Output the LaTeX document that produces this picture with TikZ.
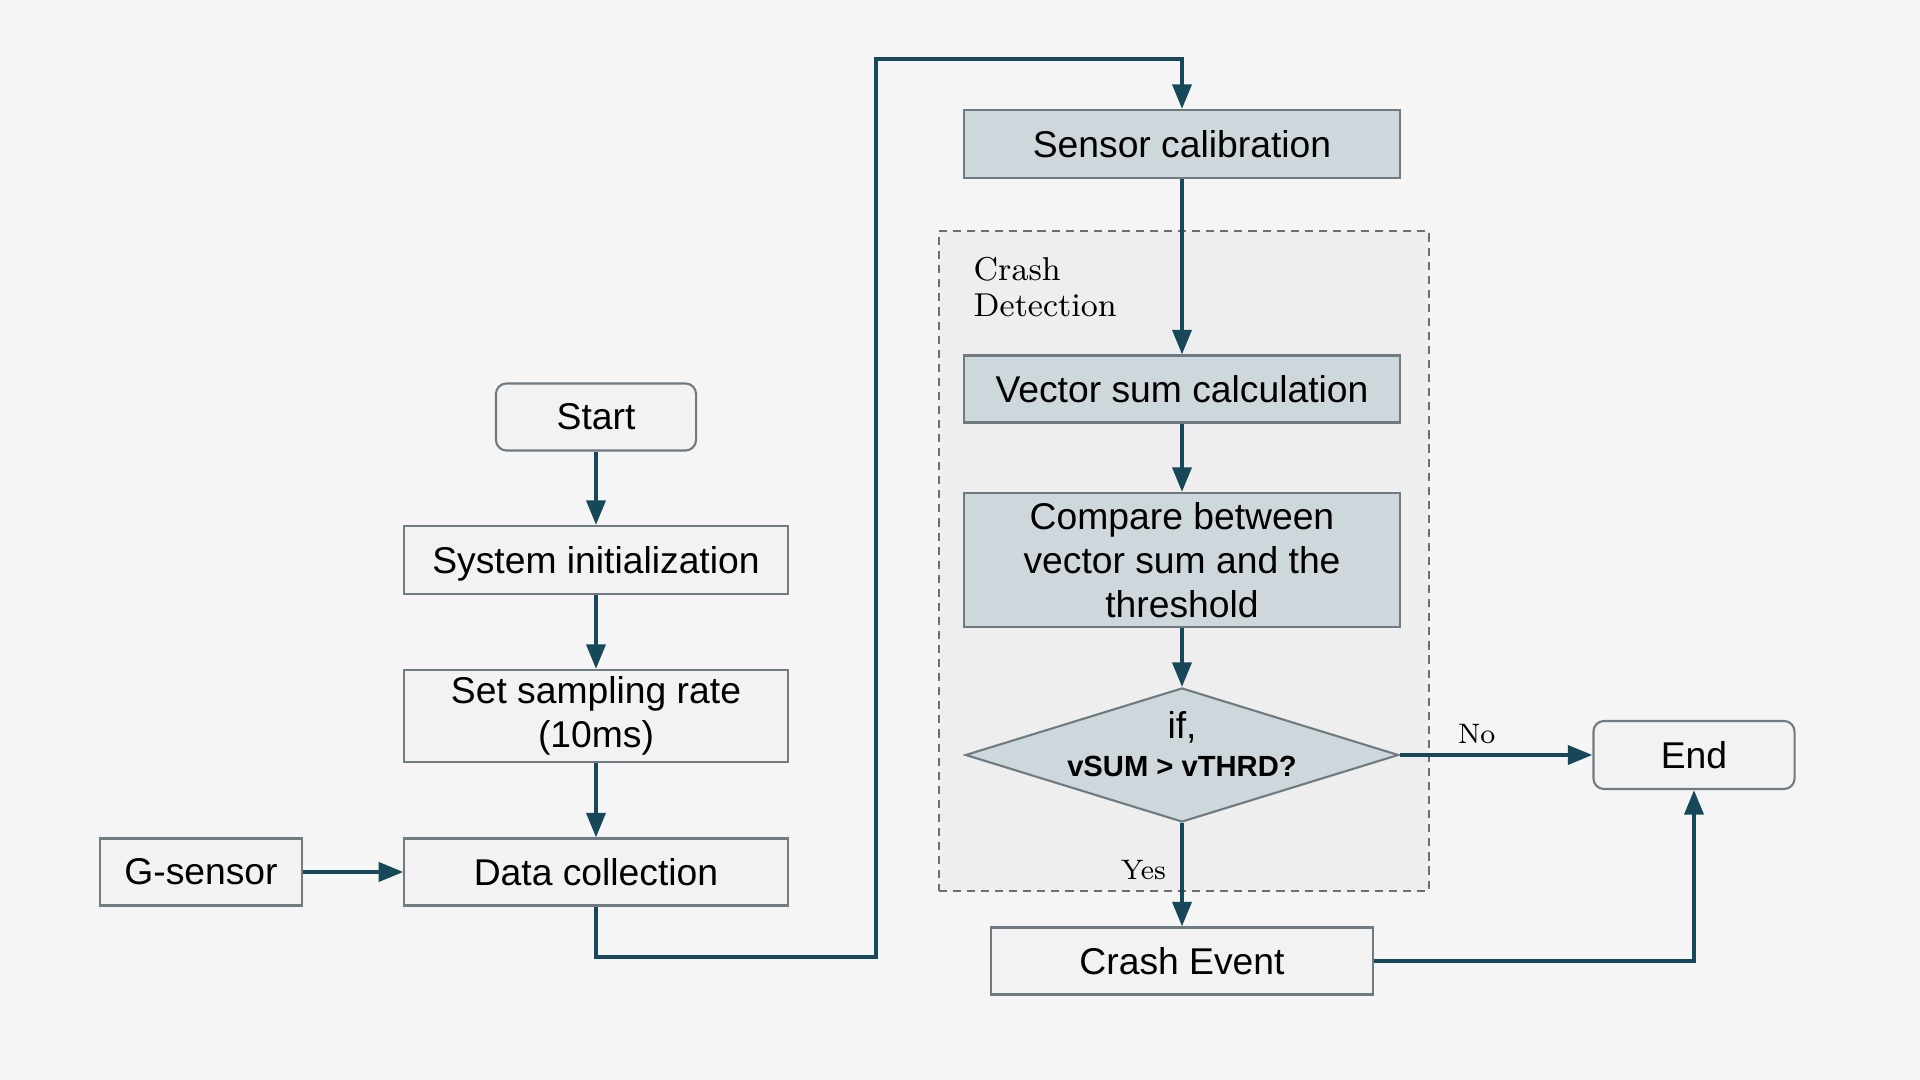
\documentclass[tikz,border=0pt]{standalone}
\usepackage{fontspec}
\newfontfamily\boxfont{Liberation Sans}
\usetikzlibrary{shapes.geometric,arrows.meta}
\definecolor{pagebg}{HTML}{F5F5F5}
\definecolor{boxfill}{HTML}{F2F2F2}
\definecolor{stepfill}{HTML}{CED7DB}
\definecolor{boxline}{HTML}{6F7B80}
\definecolor{zonefill}{HTML}{EEEEEE}
\definecolor{zoneline}{HTML}{6E6E6E}
\definecolor{flowcol}{HTML}{17485A}
\begin{document}
\begin{tikzpicture}[x=0.01cm, y=-0.01cm,
  box/.style={draw=boxline, fill=boxfill, line width=0.6pt, inner sep=0pt,
    align=center, font=\boxfont\fontsize{10.6}{12.5}\selectfont},
  roundbox/.style={box, rounded corners=3pt},
  calcbox/.style={box, fill=stepfill},
  flow/.style={draw=flowcol, line width=1.1pt, -{Triangle[length=7pt, width=5.4pt]}},
  note/.style={font=\fontsize{8}{9}\selectfont, inner sep=1pt}]
  \useasboundingbox[fill=pagebg] (0,0) rectangle (1920,1080);

  % crash detection zone
  \node[draw=zoneline, fill=zonefill, dash pattern=on 2.3pt off 1.7pt, line width=0.6pt,
    minimum width=4.9cm, minimum height=6.59cm, inner sep=0pt] (zone) at (1184,561) {};
  \node[anchor=west, align=left, inner sep=0pt, font=\fontsize{9.4}{10.2}\selectfont]
    (zonelabel) at (973,287) {Crash\\Detection};

  % left column
  \node[roundbox, minimum width=2cm, minimum height=0.67cm] (start) at (596,417) {Start};
  \node[box, minimum width=3.83cm, minimum height=0.68cm, text depth=0pt] (sysinit) at (596,560) {System initialization};
  \node[box, minimum width=3.83cm, minimum height=0.92cm] (sampling) at (596,716) {Set sampling rate\\(10ms)};
  \node[box, minimum width=3.83cm, minimum height=0.67cm] (datacoll) at (596,872) {Data collection};
  \node[box, minimum width=2.01cm, minimum height=0.67cm] (gsensor) at (201,872) {G-sensor};

  % right column
  \node[calcbox, minimum width=4.36cm, minimum height=0.68cm] (sensorcal) at (1182,144) {Sensor calibration};
  \node[calcbox, minimum width=4.36cm, minimum height=0.67cm] (vecsum) at (1182,389) {Vector sum calculation};
  \node[calcbox, minimum width=4.36cm, minimum height=1.34cm] (compare) at (1182,560)
    {Compare between\\vector sum and the\\threshold};
  \node[diamond, draw=boxline, fill=stepfill, line width=0.6pt, inner sep=0pt,
    minimum width=4.33cm, minimum height=1.34cm] (decision) at (1182,755) {};
  \node[align=center, inner sep=0pt, font=\boxfont\fontsize{10.6}{12.5}\selectfont]
    (dectext) at (1182,744) {if,\\[-1.5pt]{\fontsize{8.3}{10}\selectfont\bfseries vSUM > vTHRD?}};
  \node[box, minimum width=3.82cm, minimum height=0.67cm] (crash) at (1182,961) {Crash Event};
  \node[roundbox, minimum width=2.01cm, minimum height=0.68cm] (endnode) at (1694,755) {End};

  \coordinate (loopturn) at (876,59);

  % connectors
  \draw[flow] (start) -- (sysinit);
  \draw[flow] (sysinit) -- (sampling);
  \draw[flow] (sampling) -- (datacoll);
  \draw[flow] (gsensor) -- (datacoll);
  \draw[flow] (datacoll.south) -- ++(0,50) -| (loopturn) -| (sensorcal.north);
  \draw[flow] (sensorcal) -- (vecsum);
  \draw[flow] (vecsum) -- (compare);
  \draw[flow] (compare) -- (decision.north);
  \draw[flow] (decision.east) -- node[note, pos=0.4, above=1.5pt] {No} (endnode.west);
  \draw[flow] (decision.south) -- node[note, pos=0.45, left=3pt] {Yes} (crash.north);
  \draw[flow] (crash.east) -| (endnode.south);
\end{tikzpicture}
\end{document}
